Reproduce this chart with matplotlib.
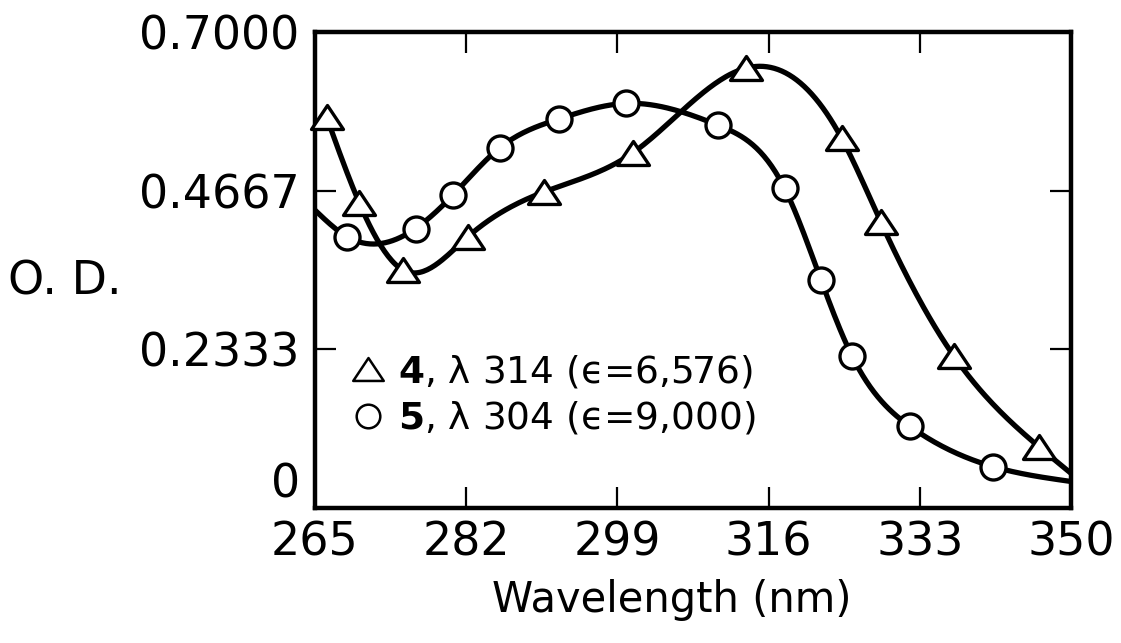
import numpy as np
import matplotlib
matplotlib.use("Agg")
import matplotlib.pyplot as plt
from matplotlib.lines import Line2D
from matplotlib.path import Path

# data (wavelength nm, optical density)
wl_tri = [266.3, 270.0, 274.9, 282.2, 290.8, 300.7, 313.5, 324.2, 328.6, 336.8, 346.4]
od_tri = [0.575, 0.448, 0.350, 0.399, 0.465, 0.522, 0.647, 0.544, 0.421, 0.224, 0.090]
wl_circ = [268.6, 276.3, 280.5, 285.8, 292.4, 300.0, 310.3, 317.8, 321.9, 325.4, 331.9, 341.2]
od_circ = [0.399, 0.411, 0.460, 0.530, 0.572, 0.595, 0.563, 0.470, 0.335, 0.223, 0.120, 0.061]

# where the drawn curves meet the frame
tri_end = (350.0, 0.051)
circ_start = (265.0, 0.438)
circ_end = (350.0, 0.039)

xticks = [265, 282, 299, 316, 333, 350]
yticks = [0, 0.2333, 0.4667, 0.7]
ytick_labels = ["0", "0.2333", "0.4667", "0.7000"]
legend_labels = [r"$\mathbf{4}$, λ 314 (ϵ=6,576)", r"$\mathbf{5}$, λ 304 (ϵ=9,000)"]


def smooth(x, y, n=400):
    # natural cubic spline through the points
    x = np.asarray(x, float)
    y = np.asarray(y, float)
    k = len(x)
    h = np.diff(x)
    A = np.zeros((k, k))
    b = np.zeros(k)
    A[0, 0] = A[-1, -1] = 1
    for i in range(1, k - 1):
        A[i, i - 1] = h[i - 1]
        A[i, i] = 2 * (h[i - 1] + h[i])
        A[i, i + 1] = h[i]
        b[i] = 6 * ((y[i + 1] - y[i]) / h[i] - (y[i] - y[i - 1]) / h[i - 1])
    M = np.linalg.solve(A, b)
    xs = np.linspace(x[0], x[-1], n)
    j = np.clip(np.searchsorted(x, xs) - 1, 0, k - 2)
    t0 = x[j + 1] - xs
    t1 = xs - x[j]
    hj = h[j]
    ys = (M[j] * t0 ** 3 + M[j + 1] * t1 ** 3) / (6 * hj) \
        + (y[j] / hj - M[j] * hj / 6) * t0 + (y[j + 1] / hj - M[j + 1] * hj / 6) * t1
    return xs, ys


plt.rcParams['font.family'] = ['DejaVu Sans']
plt.rcParams['mathtext.fontset'] = 'dejavusans'

fig = plt.figure(figsize=(11.21, 6.43), dpi=100)
ax = fig.add_axes([315 / 1121, (643 - 508) / 643, 756 / 1121, 476 / 643])

# squat open triangle like the hand-drawn ones
tri_marker = Path([(-1, -0.75), (1, -0.75), (0, 0.75), (-1, -0.75)], closed=True)

cx, cy = smooth([circ_start[0]] + wl_circ + [circ_end[0]], [circ_start[1]] + od_circ + [circ_end[1]])
ax.plot(cx, cy, color='black', lw=3.8, solid_capstyle='butt', zorder=2, clip_on=False)
tx, ty = smooth(wl_tri + [tri_end[0]], od_tri + [tri_end[1]])
ax.plot(tx, ty, color='black', lw=3.8, solid_capstyle='butt', zorder=2, clip_on=False)

ax.plot(wl_circ, od_circ, ls='none', marker='o', ms=18, mfc='white', mec='black', mew=2.4, zorder=3)
ax.plot(wl_tri, od_tri, ls='none', marker=tri_marker, ms=23, mfc='white', mec='black', mew=2.4,
        zorder=3, clip_on=False)

ax.set_xlim(265, 350)
ax.set_ylim(0, 0.7)
ax.set_xticks(xticks)
ax.set_yticks(yticks)
ax.set_yticklabels(ytick_labels)
ax.tick_params(direction='in', length=15, width=1.6, top=True, right=True, labelsize=33)
ax.tick_params(axis='x', pad=9)
ax.tick_params(axis='y', pad=11)
ax.get_yticklabels()[0].set_va('bottom')
for s in ax.spines.values():
    s.set_linewidth(3.2)

ax.set_xlabel("Wavelength (nm)", fontsize=30, va='center')
ax.xaxis.set_label_coords(0.472, -0.193)
ax.set_ylabel("O. D.", fontsize=33, rotation=0, ha='center', va='center')
ax.yaxis.set_label_coords(-0.331, 0.475)

handles = [
    Line2D([], [], ls='none', marker=tri_marker, ms=22, mfc='white', mec='black', mew=1.8),
    Line2D([], [], ls='none', marker='o', ms=17, mfc='white', mec='black', mew=1.8),
]
ax.legend(handles, legend_labels, loc='upper left', bbox_to_anchor=(0.045, 0.325), frameon=False,
          fontsize=27, handlelength=1.0, handletextpad=0.3, labelspacing=0.25,
          borderpad=0, borderaxespad=0)

fig.savefig("out.png", dpi=100)
